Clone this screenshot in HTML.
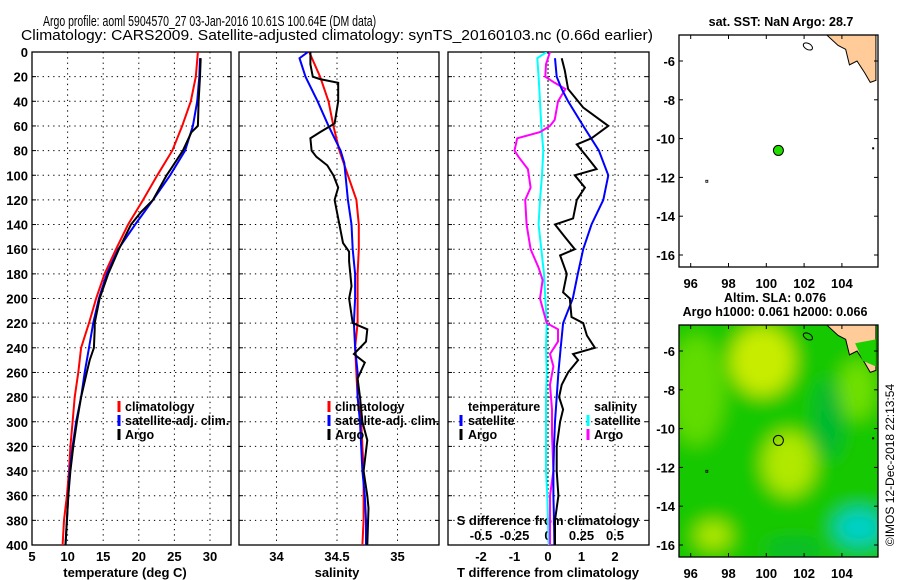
<!DOCTYPE html>
<html><head><meta charset="utf-8">
<style>
html,body{margin:0;padding:0;background:#fff;}
svg{display:block;font-family:"Liberation Sans",sans-serif;}
.tk{font-size:13px;font-weight:bold;}
.lg{font-size:12.5px;font-weight:bold;}
</style></head>
<body>
<svg id="chart" width="900" height="580" viewBox="0 0 900 580">
<defs>
<clipPath id="c1"><rect x="32" y="52" width="199" height="493"/></clipPath>
<clipPath id="c2"><rect x="239" y="52" width="200" height="493"/></clipPath>
<clipPath id="c3"><rect x="448" y="52" width="201" height="493"/></clipPath>
<clipPath id="cm1"><rect x="679" y="35" width="199" height="232"/></clipPath>
<clipPath id="cm2"><rect x="679" y="325" width="199" height="232"/></clipPath>
<filter id="blur" x="-20%" y="-20%" width="140%" height="140%"><feGaussianBlur stdDeviation="9"/></filter>
</defs>
<text transform="translate(43,26) scale(0.70,1)" font-size="15">Argo profile: aoml 5904570_27 03-Jan-2016 10.61S 100.64E (DM data)</text>
<text transform="translate(21,40) scale(1.04,1)" font-size="15">Climatology: CARS2009. Satellite-adjusted climatology: synTS_20160103.nc (0.66d earlier)</text>
<g id="g"></g>
<text transform="translate(894,465) rotate(-90)" text-anchor="middle" font-size="12">©IMOS 12-Dec-2018 22:13:54</text>
</svg>
<script>
// depth grid
const depthTicks=[0,20,40,60,80,100,120,140,160,180,200,220,240,260,280,300,320,340,360,380,400];
const tempTicks=[5,10,15,20,25,30];
const salTicks=[34,34.5,35];
const tdTicks=[-2,-1,0,1,2];
const sdTicks=[-0.5,-0.25,0,0.25,0.5];
const sdTickLabels=['-0.5','-0.25','0','0.25','0.5'];
// temperature profiles
const climTD=[0,20,40,60,80,100,120,140,160,180,200,220,240,260,280,300,320,340,360,380,400];
const climT=[28.3,28.0,27.3,26.1,24.7,22.6,20.6,18.5,16.8,15.2,14.0,13.0,11.9,11.5,11.0,10.7,10.4,10.2,9.9,9.5,9.3];
const satTD=[5,20,40,60,80,100,120,140,160,180,200,220,240,260,280,300,320,340,360,380,400];
const satT=[28.6,28.5,28.2,27.6,26.5,24.4,22.0,19.5,17.1,15.5,14.4,13.6,13.0,12.4,11.9,11.2,10.7,10.3,10.1,9.9,9.7];
const argoTD=[5,20,40,60,65,80,95,100,120,130,140,160,180,200,220,225,240,250,260,280,300,320,340,360,380,400];
const argoT=[28.7,28.6,28.4,28.3,27.4,26.2,24.5,23.9,22.0,20.3,18.9,17.2,15.7,14.5,13.8,13.8,13.7,13.1,12.7,11.9,11.3,10.8,10.4,10.1,9.9,9.7];
// salinity profiles
const climSD=[0,20,40,60,80,100,120,140,160,180,200,220,240,280,300,320,340,360,380,400];
const climS=[34.27,34.36,34.43,34.47,34.52,34.59,34.66,34.68,34.68,34.67,34.67,34.67,34.65,34.67,34.70,34.71,34.72,34.72,34.72,34.71];
const satSD=[0,5,20,40,60,80,90,100,120,140,160,180,200,220,240,260,280,300,320,340,360,380,400];
const satS=[34.26,34.19,34.24,34.34,34.43,34.53,34.56,34.57,34.59,34.62,34.63,34.65,34.65,34.64,34.65,34.67,34.67,34.69,34.70,34.71,34.73,34.74,34.74];
const argoSD=[0,10,20,22,25,40,58,65,70,80,85,92,100,110,120,140,155,162,170,190,200,220,225,235,245,252,265,280,300,315,340,360,370,400];
const argoS=[34.28,34.28,34.30,34.36,34.51,34.51,34.48,34.36,34.28,34.29,34.33,34.42,34.47,34.51,34.48,34.52,34.55,34.60,34.60,34.62,34.60,34.63,34.75,34.74,34.64,34.73,34.67,34.69,34.71,34.75,34.72,34.75,34.76,34.75];
// differences
const satTdD=[5,20,30,40,60,80,100,120,140,160,180,200,220,240,260,280,300,320,340,360,380,400];
const satTd=[0.21,0.26,0.41,0.6,1.05,1.52,1.8,1.65,1.3,1.05,0.89,0.74,0.45,0.38,0.31,0.26,0.21,0.18,0.16,0.16,0.18,0.19];
const argoTdD=[5,15,30,45,60,70,75,85,95,100,110,120,135,140,150,160,165,180,195,200,215,220,230,240,245,250,260,270,280,290,300,320,340,360,380,400];
const argoTd=[0.41,0.5,0.6,1.05,1.8,1.3,0.86,1.16,1.45,0.8,1.1,0.86,0.75,0.21,0.5,0.8,0.36,0.56,0.45,0.65,0.7,1.05,1.16,1.4,0.75,0.9,0.6,0.41,0.33,0.45,0.36,0.26,0.26,0.31,0.21,0.21];
const argoSdD=[0,10,20,25,30,40,55,60,65,70,80,85,95,110,120,140,160,175,185,200,220,225,235,245,255,270,290,310,340,360,400];
const argoSd=[0.015,-0.015,-0.02,0.05,0.13,0.075,0.05,0.015,-0.06,-0.23,-0.25,-0.22,-0.15,-0.13,-0.17,-0.16,-0.13,-0.07,-0.04,-0.06,-0.01,0.075,0.075,0.015,0.04,0.015,0.03,0.03,0.04,0.015,0.015];
const satSdD=[0,5,20,40,60,80,100,120,140,160,180,200,220,240,260,280,300,320,340,360,380,400];
const satSd=[-0.01,-0.08,-0.07,-0.06,-0.05,-0.035,-0.045,-0.06,-0.07,-0.05,-0.03,-0.02,-0.01,-0.015,-0.01,-0.015,-0.015,-0.015,-0.015,-0.005,0,0.005];
// map
const lonTicks=[96,98,100,102,104];
const latTicks=[-6,-8,-10,-12,-14,-16];
const argoLon=100.64, argoLat=-10.61;

const NS='http://www.w3.org/2000/svg';
const G=document.getElementById('g');
function el(tag,attrs,parent){const e=document.createElementNS(NS,tag);for(const k in attrs)e.setAttribute(k,attrs[k]);(parent||G).appendChild(e);return e;}
const yD=d=>52+d*1.2325;
const xT=t=>32+(t-5)*7.12;
const xS=s=>337+(s-34.5)*121;
const xTd=v=>548+v*33.5;
const xSd=v=>548+v*134;

function panel(x0,x1,xs,name,clip){
  const grp=el('g',{});
  
  
  depthTicks.forEach(d=>{if(d>0&&d<400){const l=el('line',{x1:x0,x2:x1,y1:yD(d),y2:yD(d),stroke:'#000','stroke-dasharray':'1.3,4','stroke-width':1},grp);
    }
    el('line',{x1:x0,x2:x0+4,y1:yD(d),y2:yD(d),stroke:'#000'},grp);el('line',{x1:x1-4,x2:x1,y1:yD(d),y2:yD(d),stroke:'#000'},grp);});
  xs.forEach(x=>{const l=el('line',{x1:x,x2:x,y1:52,y2:545,stroke:'#000','stroke-dasharray':'1.3,4'},grp);
    });
  const r=el('rect',{x:x0,y:52,width:x1-x0,height:493,fill:'none',stroke:'#000','stroke-width':1.3},grp);
  
  return grp;
}
function line(xs,ys,fx,color,name,clip,w){
  const pts=xs.map((v,i)=>fx(v).toFixed(1)+','+yD(ys[i]).toFixed(1)).join(' ');
  const p=el('polyline',{points:pts,fill:'none',stroke:color,'stroke-width':w||2,'clip-path':'url(#'+clip+')'});
  
  
}
function txt(x,y,s,cls,anchor,name){const t=el('text',{x:x,y:y,class:cls,'text-anchor':anchor||'start'});t.textContent=s;
  return t;}
function legBar(x,y,c){el('line',{x1:x,x2:x,y1:y-10,y2:y+1,stroke:c,'stroke-width':3});}

// Panel 1
panel(32,231,tempTicks.slice(1).map(xT),'temperature-panel','c1');
depthTicks.forEach(d=>txt(28,yD(d)+5,String(d),'tk','end','depth-tick-label'));
tempTicks.forEach(t=>txt(xT(t),561,String(t),'tk','middle','temperature-tick-label'));
txt(125,577,'temperature (deg C)','tk','middle','temperature-axis-title');
line(climT,climTD,xT,'#f00','climatology-temperature-line','c1');
line(satT,satTD,xT,'#00f','satellite-temperature-line','c1');
line(argoT,argoTD,xT,'#000','argo-temperature-line','c1');
[['#f00','climatology'],['#00f','satellite-adj. clim.'],['#000','Argo']].forEach((e,i)=>{legBar(119,411+i*14,e[0]);txt(125,411+i*14,e[1],'lg','start','temperature-legend-entry');});

// Panel 2
panel(239,439,salTicks.map(xS),'salinity-panel','c2');
salTicks.forEach(s=>txt(xS(s),561,String(s),'tk','middle','salinity-tick-label'));
txt(337,577,'salinity','tk','middle','salinity-axis-title');
line(climS,climSD,xS,'#f00','climatology-salinity-line','c2');
line(satS,satSD,xS,'#00f','satellite-salinity-line','c2');
line(argoS,argoSD,xS,'#000','argo-salinity-line','c2');
[['#f00','climatology'],['#00f','satellite-adj. clim.'],['#000','Argo']].forEach((e,i)=>{legBar(329,411+i*14,e[0]);txt(335,411+i*14,e[1],'lg','start','salinity-legend-entry');});

// Panel 3
panel(448,649,tdTicks.filter(v=>v!==0).map(xTd),'difference-panel','c3');
const zl=el('line',{x1:548,x2:548,y1:52,y2:545,stroke:'#000','stroke-dasharray':'2,2'});

tdTicks.forEach(v=>txt(xTd(v),561,String(v),'tk','middle','t-difference-tick-label'));
txt(548,577,'T difference from climatology','tk','middle','t-difference-axis-title');
sdTicks.forEach((v,i)=>txt(xSd(v),540,sdTickLabels[i],'tk','middle','s-difference-tick-label'));
txt(548,525,'S difference from climatology','tk','middle','s-difference-axis-title');
line(satSd,satSdD,xSd,'#0ff','satellite-salinity-difference-line','c3');
line(argoSd,argoSdD,xSd,'#f0f','argo-salinity-difference-line','c3');
line(satTd,satTdD,xTd,'#00f','satellite-temperature-difference-line','c3');
line(argoTd,argoTdD,xTd,'#000','argo-temperature-difference-line','c3');
txt(468,411,'temperature','lg','start','legend-temperature-heading');
legBar(461,425,'#00f');txt(468,425,'satellite','lg','start','legend-temperature-satellite');
legBar(461,439,'#000');txt(468,439,'Argo','lg','start','legend-temperature-argo');
txt(594,411,'salinity','lg','start','legend-salinity-heading');
legBar(588,425,'#0ff');txt(594,425,'satellite','lg','start','legend-salinity-satellite');
legBar(588,439,'#f0f');txt(594,439,'Argo','lg','start','legend-salinity-argo');

// Maps
const mx=lon=>690.7+(lon-96)*18.9;
function map(top,name,clip,sla){
  const my=lat=>top+26+(-6-lat)*19.4;
  const grp=el('g',{});
  
  if(sla){
    const hg=el('g',{'clip-path':'url(#'+clip+')'},grp);
    el('rect',{x:679,y:top,width:199,height:232,fill:'#0cc400'},hg);
    const bg=el('g',{filter:'url(#blur)'},hg);
    el('rect',{x:660,y:top-20,width:240,height:270,fill:'#12c800'},bg);
    el('ellipse',{cx:mx(96.3),cy:my(-8),rx:28,ry:55,fill:'#60dc00'},bg);
    el('ellipse',{cx:mx(99.8),cy:my(-6.5),rx:32,ry:35,fill:'#c8ec00'},bg);
    el('ellipse',{cx:mx(104.8),cy:my(-8),rx:18,ry:30,fill:'#70e000'},bg);
    el('ellipse',{cx:mx(101.2),cy:my(-11.8),rx:26,ry:32,fill:'#b0e800'},bg);
    el('ellipse',{cx:mx(97.2),cy:my(-15.5),rx:18,ry:14,fill:'#b0e800'},bg);
    el('ellipse',{cx:mx(103.3),cy:my(-9.5),rx:14,ry:40,fill:'#00b830'},bg);
    el('ellipse',{cx:mx(104.9),cy:my(-15.1),rx:24,ry:18,fill:'#00d0c8'},bg);
    el('ellipse',{cx:mx(101.5),cy:my(-16.2),rx:30,ry:8,fill:'#00b830'},bg);
  }
  const land=el('polygon',{points:`${mx(103.2)},${top} ${mx(105.8)},${top} ${mx(105.8)},${my(-7)} ${mx(105.5)},${my(-7.1)} ${mx(105.2)},${my(-6.6)} ${mx(104.8)},${my(-6)} ${mx(104.4)},${my(-6.2)} ${mx(104.2)},${my(-5.4)} ${mx(103.8)},${my(-5.2)}`,fill:'#ffcc99',stroke:'#000','stroke-width':1,'clip-path':'url(#'+clip+')'},grp);
  
  if(sla){el('polygon',{points:`${mx(104.7)},${my(-5.6)} ${mx(105.8)},${my(-5.4)} ${mx(105.8)},${my(-6.8)} ${mx(105.1)},${my(-6.5)}`,fill:'#1cd000','clip-path':'url(#'+clip+')'},grp);}
  el('ellipse',{cx:mx(102.2),cy:my(-5.25),rx:5,ry:3,fill:'none',stroke:'#000',transform:`rotate(30 ${mx(102.2)} ${my(-5.25)})`},grp);
  el('rect',{x:mx(96.8),y:my(-12.2)-1,width:2,height:2,fill:'none',stroke:'#000','stroke-width':0.8},grp);
  el('rect',{x:mx(105.6),y:my(-10.5)-1,width:2,height:2,fill:'#000'},grp);
  const r=el('rect',{x:679,y:top,width:199,height:232,fill:'none',stroke:'#000','stroke-width':1.3},grp);
  
  lonTicks.forEach(l=>{el('line',{x1:mx(l),x2:mx(l),y1:top,y2:top+4,stroke:'#000'},grp);el('line',{x1:mx(l),x2:mx(l),y1:top+232,y2:top+228,stroke:'#000'},grp);
    txt(mx(l),top+253,String(l),'tk','middle','longitude-tick-label');});
  latTicks.forEach(l=>{el('line',{x1:679,x2:683,y1:my(l),y2:my(l),stroke:'#000'},grp);el('line',{x1:874,x2:878,y1:my(l),y2:my(l),stroke:'#000'},grp);
    txt(675,my(l)+5,String(l),'tk','end','latitude-tick-label');});
  const c=el('circle',{cx:mx(argoLon),cy:my(argoLat),r:5,fill:sla?'none':'#22dd00',stroke:'#000','stroke-width':1},grp);
  
}
map(35,'sst-map','cm1',false);
map(325,'sla-map','cm2',true);
txt(781,26,'sat. SST: NaN Argo: 28.7','lg','middle','sst-map-title');
txt(775,302,'Altim. SLA: 0.076','lg','middle','sla-map-title');
txt(775,316,'Argo h1000: 0.061 h2000: 0.066','lg','middle','sla-map-subtitle');
</script>
</body></html>
